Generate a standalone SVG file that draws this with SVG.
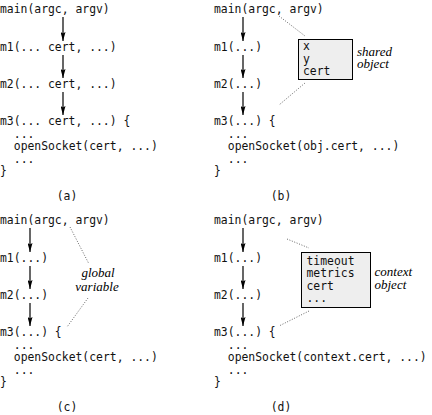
<svg xmlns="http://www.w3.org/2000/svg" width="432" height="415" viewBox="0 0 432 415">
<defs>
<marker id="ah" markerWidth="9" markerHeight="5" refX="9" refY="2.5" orient="auto" markerUnits="userSpaceOnUse">
<path d="M0,0 L9,2.5 L0,5 L1.5,2.5 z" fill="#000"/>
</marker>
</defs>
<style>
.code{font-family:"DejaVu Sans Mono","Liberation Mono",monospace;font-size:11.4px;fill:#111}
.note{font-family:"Liberation Serif","DejaVu Serif",serif;font-style:italic;font-size:13px;fill:#000}
.lbl{font-family:"DejaVu Sans Mono","Liberation Mono",monospace;font-size:11.4px;fill:#111;text-anchor:middle}
.arr{stroke:#000;stroke-width:1.2;fill:none;marker-end:url(#ah)}
.dot{stroke:#555;stroke-width:0.9;stroke-dasharray:1 1.6;fill:none}
.box{fill:#eeeeee;stroke:#000;stroke-width:1}
</style>
<g id="panel-a">
<text class="code" x="0" y="13">main(argc, argv)</text>
<text class="code" x="0" y="51">m1(... cert, ...)</text>
<text class="code" x="0" y="88">m2(... cert, ...)</text>
<text class="code" x="0" y="125">m3(... cert, ...) {</text>
<text class="code" x="13.8" y="137.5">...</text>
<text class="code" x="13.8" y="150">openSocket(cert, ...)</text>
<text class="code" x="13.8" y="162.5">...</text>
<text class="code" x="0" y="175">}</text>
<text class="lbl" x="67" y="200">(a)</text>
</g>
<g id="panel-b">
<text class="code" x="214" y="13">main(argc, argv)</text>
<text class="code" x="214" y="51">m1(...)</text>
<text class="code" x="214" y="88">m2(...)</text>
<text class="code" x="214" y="125">m3(...) {</text>
<text class="code" x="227.8" y="137.5">...</text>
<text class="code" x="227.8" y="150">openSocket(obj.cert, ...)</text>
<text class="code" x="227.8" y="162.5">...</text>
<text class="code" x="214" y="175">}</text>
<text class="lbl" x="281" y="200">(b)</text>
</g>
<g id="shared-object">
<rect class="box" x="298.5" y="39.5" width="54" height="40"/>
<text class="code" x="303" y="50">x</text>
<text class="code" x="303" y="62.5">y</text>
<text class="code" x="303" y="75">cert</text>
<text class="note" x="357" y="55.5">shared</text>
<text class="note" x="357" y="68">object</text>
</g>
<g id="panel-c">
<text class="code" x="0" y="224">main(argc, argv)</text>
<text class="code" x="0" y="262">m1(...)</text>
<text class="code" x="0" y="299">m2(...)</text>
<text class="code" x="0" y="336">m3(...) {</text>
<text class="code" x="13.8" y="348.5">...</text>
<text class="code" x="13.8" y="361">openSocket(cert, ...)</text>
<text class="code" x="13.8" y="373.5">...</text>
<text class="code" x="0" y="386">}</text>
<text class="lbl" x="67" y="410.5">(c)</text>
</g>
<g id="global-variable">
<text class="note" x="98" y="277" text-anchor="middle">global</text>
<text class="note" x="97" y="291" text-anchor="middle">variable</text>
</g>
<g id="panel-d">
<text class="code" x="214" y="224">main(argc, argv)</text>
<text class="code" x="214" y="262">m1(...)</text>
<text class="code" x="214" y="299">m2(...)</text>
<text class="code" x="214" y="336">m3(...) {</text>
<text class="code" x="227.8" y="348.5">...</text>
<text class="code" x="227.8" y="361">openSocket(context.cert, ...)</text>
<text class="code" x="227.8" y="373.5">...</text>
<text class="code" x="214" y="386">}</text>
<text class="lbl" x="281" y="410.5">(d)</text>
</g>
<g id="context-object">
<rect class="box" x="301.5" y="252.5" width="69" height="55"/>
<text class="code" x="306.5" y="264.5">timeout</text>
<text class="code" x="306.5" y="277">metrics</text>
<text class="code" x="306.5" y="289.5">cert</text>
<text class="code" x="306.5" y="302">...</text>
<text class="note" x="374.5" y="276">context</text>
<text class="note" x="374.5" y="288.5">object</text>
</g>
<g id="connectors">
<line class="arr" x1="63" y1="17" x2="63" y2="41"/>
<line class="arr" x1="63" y1="55" x2="63" y2="78"/>
<line class="arr" x1="63" y1="92" x2="63" y2="115"/>
<line class="arr" x1="243" y1="17" x2="243" y2="41"/>
<line class="arr" x1="243" y1="55" x2="243" y2="78"/>
<line class="arr" x1="243" y1="92" x2="243" y2="115"/>
<line class="arr" x1="30" y1="228" x2="30" y2="252"/>
<line class="arr" x1="30" y1="266" x2="30" y2="289"/>
<line class="arr" x1="30" y1="303" x2="30" y2="326"/>
<line class="arr" x1="243" y1="228" x2="243" y2="252"/>
<line class="arr" x1="243" y1="266" x2="243" y2="289"/>
<line class="arr" x1="243" y1="303" x2="243" y2="326"/>
<line class="dot" x1="279" y1="16" x2="305" y2="36"/>
<line class="dot" x1="305" y1="83" x2="279" y2="105"/>
<line class="dot" x1="70" y1="227" x2="89" y2="264"/>
<line class="dot" x1="88" y1="298" x2="67" y2="327"/>
<line class="dot" x1="287" y1="239" x2="309" y2="248"/>
<line class="dot" x1="309" y1="311" x2="279" y2="326"/>
</g>
</svg>
